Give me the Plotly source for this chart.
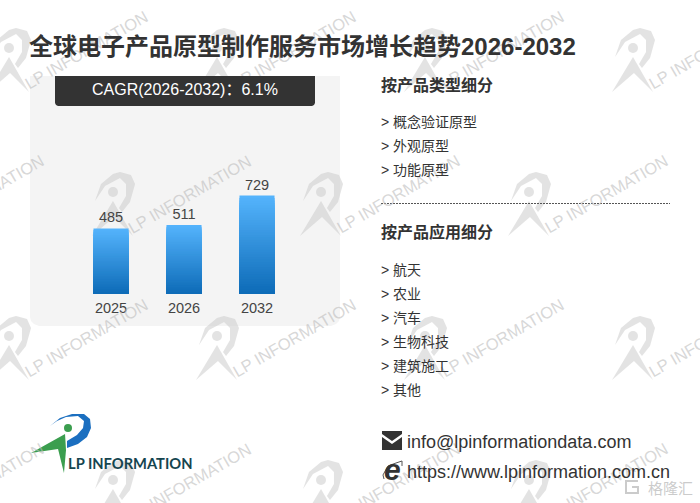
import plotly.graph_objects as go

# values
years = ["2025", "2026", "2032"]
values = [485, 511, 729]
title = "全球电子产品原型制作服务市场增长趋势2026-2032"
cagr = "CAGR(2026-2032)：6.1%"
type_head = "按产品类型细分"
type_items = ["概念验证原型", "外观原型", "功能原型"]
app_head = "按产品应用细分"
app_items = ["航天", "农业", "汽车", "生物科技", "建筑施工", "其他"]
email = "info@lpinformationdata.com"
site = "https://www.lpinformation.com.cn"

W, H = 700, 503
CN = "Noto Sans CJK SC"
LAT = "Liberation Sans"
LIST_FONT = "Liberation Sans, Noto Sans CJK SC"

def px(x):
  return x / W

def py(y):
  return 1 - y / H

# turns pixel points into a paper path
def path(points, close=True):
  s = "M" + " L".join(f"{px(x):.4f},{py(y):.4f}" for x, y in points)
  return s + (" Z" if close else "")

def poly(points, color, layer="below"):
  return dict(type="path", path=path(points), xref="paper", yref="paper", fillcolor=color, line_width=0, layer=layer)

def circle(x, y, r, color):
  return dict(type="circle", xref="paper", yref="paper", x0=px(x - r), x1=px(x + r),
              y0=py(y + r), y1=py(y - r), fillcolor=color, line_width=0, layer="below")

def label(x, y, text, size, color="#333333", family=LIST_FONT, anchor="left", **kw):
  return dict(x=px(x), y=py(y), xref="paper", yref="paper", text=text, showarrow=False,
              xanchor=anchor, yanchor="middle", font=dict(size=size, color=color, family=family), **kw)

fig = go.Figure()

# gradient on the bars: overlaid bars, each shorter one darker
steps = 40
top_col = (84, 179, 252)
bot_col = (12, 106, 182)
for s in range(steps):
  f = 1 - s / steps
  col = [round(bot_col[c] + (top_col[c] - bot_col[c]) * f) for c in range(3)]
  fig.add_bar(
    x=years, y=[v * f for v in values], width=0.48,
    marker=dict(color=f"rgb({col[0]},{col[1]},{col[2]})", line_width=0),
    hoverinfo="skip", showlegend=False,
    text=values if s == 0 else None, textposition="outside", cliponaxis=False,
    textfont=dict(size=14.5, color="#444444", family=LAT),
  )

shapes = []
# grey panel and the dark CAGR box
shapes.append(poly([(30, 76), (340, 76), (340, 317), (339, 321), (336, 324), (331, 326), (39, 326), (34, 324), (31, 321), (30, 317)], "#f4f4f4"))
shapes.append(poly([(55, 76), (315, 76), (315, 103), (314, 105), (312, 106), (58, 106), (56, 105), (55, 103)], "#333333"))

annots = []

# watermark grid
WM = "rgba(200,200,200,0.5)"
WM_TEXT = "rgba(190,190,190,0.62)"
tri = [(0, 9), (-21, 44), (1, 25), (20, 44)]
swoosh = [(-18, 9), (-12, -8), (0, -18), (7, -20), (18, -17), (22, -8), (17, 10), (9, 20), (6, 16), (13, 4), (13, -8), (7, -14), (-8, -6)]
for r, row_y in enumerate([48, 192, 336, 480]):
  start = -95 if r % 2 else 9
  for c in range(4):
    x0 = start + 208 * c
    shapes.append(poly([(x0 + a, row_y + b) for a, b in tri], WM))
    shapes.append(poly([(x0 + a, row_y + b) for a, b in swoosh], WM))
    shapes.append(circle(x0, row_y, 5, WM))
    annots.append(dict(x=px(x0 + 77), y=py(row_y + 2), xref="paper", yref="paper", text="LP INFORMATION", showarrow=False,
                       xanchor="center", yanchor="middle", textangle=-30, font=dict(size=16.5, color=WM_TEXT, family=LAT)))

# box on top of the watermark text, the rounded foot is the shape above
annots.append(dict(x=px(55), y=py(76), xref="paper", yref="paper", text=" ", showarrow=False, xanchor="left", yanchor="top",
                   width=260, height=26, bgcolor="#333333", borderpad=0, borderwidth=0))

annots += [
  dict(x=px(27), y=py(47), xref="paper", yref="paper", text=f"<b>{title}</b>", showarrow=False, xanchor="left",
       yanchor="middle", font=dict(size=24, color="#333333", family=LAT + ", " + CN)),
  label(185, 89, cagr, 16, "#ffffff", anchor="center"),
  label(378.5, 85, f"<b>{type_head}</b>", 16),
  label(378.5, 232, f"<b>{app_head}</b>", 16),
  label(405, 442, email, 18, "#333333", LAT),
  label(405, 472, site, 18, "#333333", LAT),
]
for i, t in enumerate(type_items):
  annots.append(label(379, 122 + 24 * i, "&gt; " + t, 14))
for i, t in enumerate(app_items):
  annots.append(label(379, 270 + 24 * i, "&gt; " + t, 14))

# dashed divider
shapes.append(dict(type="line", xref="paper", yref="paper", x0=px(381), x1=px(670), y0=py(203.5), y1=py(203.5),
                   line=dict(color="#555555", width=1, dash="2px,1px")))

# logo bottom left
shapes.append(poly([(31, 453), (65, 434), (66, 450), (64, 473), (58, 449)], "#3b9e4f"))
shapes.append(poly([(50, 426), (60, 418), (72, 414), (84, 414), (90, 419), (91, 428), (87, 437), (78, 444), (67, 448), (67, 441), (77, 435), (83, 428), (84, 421), (78, 416), (66, 417), (57, 421)], "#1b6fc0"))
shapes.append(circle(68, 428, 4, "#3b9e4f"))
annots.append(label(65.5, 463, "<b>LP INFORMATION</b>", 14.7, "#15454f", "Lato, " + LAT))

# mail icon
shapes.append(poly([(382, 431), (402, 431), (402, 434), (392, 441), (382, 434)], "#333333"))
shapes.append(poly([(382, 437), (392, 444), (402, 437), (402, 450), (382, 450)], "#333333"))

# browser icon
annots.append(label(392, 469, "<b><i>e</i></b>", 30, "#333333", LAT, anchor="center"))
shapes.append(dict(type="path", xref="paper", yref="paper", layer="above", line=dict(color="#555555", width=1),
                   path=path([(384, 479), (383, 475), (388, 466), (396, 463), (402, 461), (402, 466)], close=False)))

# corner badge
BADGE = "rgba(200,200,200,0.95)"
annots.append(label(670.5, 487, "格隆汇", 15, BADGE, CN, anchor="center"))
shapes.append(dict(type="path", xref="paper", yref="paper", layer="above", line=dict(color=BADGE, width=2),
                   path=path([(638, 481), (626, 481), (626, 493), (638, 493), (638, 487), (632, 487)], close=False)))

fig.update_layout(
  width=W, height=H, autosize=False, barmode="overlay",
  paper_bgcolor="#ffffff", plot_bgcolor="rgba(0,0,0,0)",
  margin=dict(l=0, r=0, t=0, b=0), showlegend=False,
  shapes=shapes, annotations=annots,
  xaxis=dict(domain=[px(74.5), px(293.5)], anchor="y", type="category", showline=False, showgrid=False, ticks="",
             tickfont=dict(size=14.5, color="#444444", family=LAT), ticklabelstandoff=3, fixedrange=True),
  yaxis=dict(domain=[py(294), py(130)], range=[0, 729 * 164 / 98.5], visible=False, fixedrange=True),
)

# the page has a default body margin of 8px, the reference starts at the corner
fig.write_html("out.html", config=dict(displayModeBar=False), post_script="document.body.style.margin='0';")
